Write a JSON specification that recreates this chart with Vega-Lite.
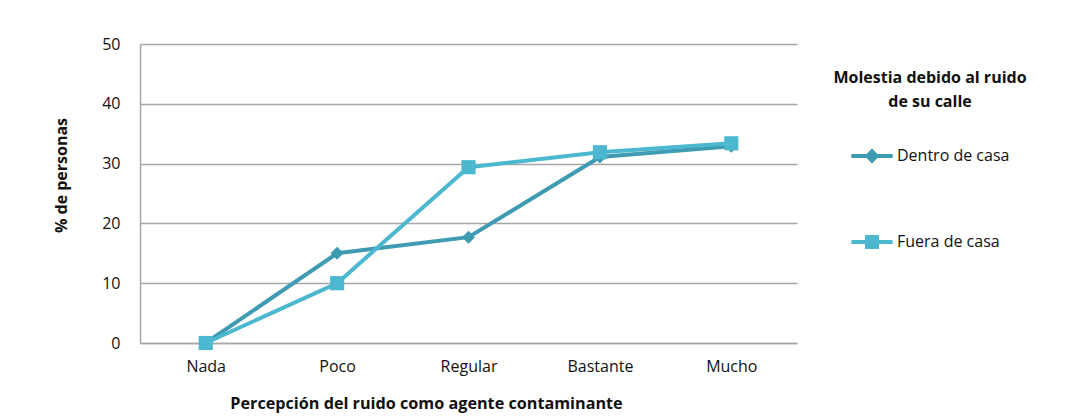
{
  "$schema": "https://vega.github.io/schema/vega-lite/v6.json",
  "width": 657,
  "height": 299,
  "autosize": "none",
  "padding": {"left": 140, "top": 44, "right": 272, "bottom": 76},
  "background": "white",
  "config": {
    "font": "Open Sans",
    "view": {"stroke": null},
    "axis": {"labelFont": "Open Sans", "titleFont": "Open Sans", "labelColor": "#111", "titleColor": "#111"}
  },
  "data": {
    "values": [
      {"cat": "Nada", "serie": "Dentro de casa", "valor": 0},
      {"cat": "Poco", "serie": "Dentro de casa", "valor": 15},
      {"cat": "Regular", "serie": "Dentro de casa", "valor": 17.7},
      {"cat": "Bastante", "serie": "Dentro de casa", "valor": 31.1},
      {"cat": "Mucho", "serie": "Dentro de casa", "valor": 32.9},
      {"cat": "Nada", "serie": "Fuera de casa", "valor": 0},
      {"cat": "Poco", "serie": "Fuera de casa", "valor": 10},
      {"cat": "Regular", "serie": "Fuera de casa", "valor": 29.4},
      {"cat": "Bastante", "serie": "Fuera de casa", "valor": 31.9},
      {"cat": "Mucho", "serie": "Fuera de casa", "valor": 33.4}
    ]
  },
  "encoding": {
    "x": {
      "field": "cat", "type": "ordinal",
      "sort": ["Nada", "Poco", "Regular", "Bastante", "Mucho"],
      "scale": {"type": "point", "padding": 0.5},
      "axis": {
        "title": "Percepción del ruido como agente contaminante",
        "titleFontSize": 16.2, "titleFontWeight": "bold",
        "titleX": 286, "titleY": 65, "titleAlign": "center", "titleBaseline": "alphabetic",
        "labelFontSize": 16, "labelAngle": 0, "labelPadding": 15,
        "ticks": false, "domainColor": "#A6A6A6", "domainWidth": 1.5, "grid": false
      }
    },
    "y": {
      "field": "valor", "type": "quantitative",
      "scale": {"domain": [0, 50], "nice": false},
      "axis": {
        "title": "% de personas",
        "titleFontSize": 16, "titleFontWeight": "bold",
        "titleX": -74, "titleY": 131, "titleAlign": "center", "titleBaseline": "alphabetic",
        "values": [0, 10, 20, 30, 40, 50],
        "labelFontSize": 16, "labelPadding": 20,
        "ticks": false, "domainColor": "#A6A6A6", "domainWidth": 1.5,
        "grid": true, "gridColor": "#A6A6A6", "gridWidth": 1.5
      }
    },
    "color": {
      "field": "serie", "type": "nominal",
      "scale": {"domain": ["Dentro de casa", "Fuera de casa"], "range": ["#3E9BB1", "#4BB8D0"]},
      "legend": {
        "orient": "none", "legendX": 693, "legendY": 26,
        "title": ["Molestia debido al ruido", "de su calle"],
        "titleFontSize": 16, "titleFontWeight": "bold", "titleColor": "#111", "titleFont": "Open Sans",
        "titleAlign": "center", "titleAnchor": "middle", "titleLimit": 400, "titleLineHeight": 24,
        "titlePadding": 25,
        "labelFontSize": 16, "labelColor": "#111", "labelFont": "Open Sans", "labelOffset": 4,
        "symbolSize": 1700, "rowPadding": 57,
        "encode": {
          "symbols": {
            "enter": {
              "shape": {"signal": "datum.value === 'Dentro de casa' ? 'M-1,-0.1H1V0.1H-1Z M0,-0.36L0.36,0L0,0.36L-0.36,0Z' : 'M-1,-0.1H1V0.1H-1Z M-0.34,-0.34H0.34V0.34H-0.34Z'"}
            },
            "update": {
              "shape": {"signal": "datum.value === 'Dentro de casa' ? 'M-1,-0.1H1V0.1H-1Z M0,-0.36L0.36,0L0,0.36L-0.36,0Z' : 'M-1,-0.1H1V0.1H-1Z M-0.34,-0.34H0.34V0.34H-0.34Z'"},
              "size": {"value": 1700},
              "fill": {"signal": "datum.value === 'Dentro de casa' ? '#3E9BB1' : '#4BB8D0'"},
              "stroke": {"value": "transparent"},
              "strokeWidth": {"value": 0},
              "opacity": {"value": 1},
              "fillOpacity": {"value": 1}
            }
          }
        }
      }
    }
  },
  "layer": [
    {
      "mark": {"type": "line", "strokeWidth": 4},
      "encoding": {"detail": {"field": "serie"}}
    },
    {
      "transform": [{"filter": "datum.serie === 'Dentro de casa'"}],
      "mark": {"type": "point", "filled": true, "opacity": 1, "shape": "diamond", "size": 170}
    },
    {
      "transform": [{"filter": "datum.serie === 'Fuera de casa'"}],
      "mark": {"type": "point", "filled": true, "opacity": 1, "shape": "square", "size": 200}
    }
  ]
}
